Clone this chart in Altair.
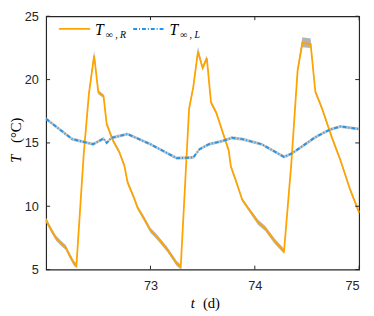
import altair as alt
import pandas as pd

# ---- data ----
t_R = [72.00, 72.05, 72.094, 72.14, 72.188, 72.22, 72.266, 72.29, 72.36, 72.41, 72.46,
       72.50, 72.55, 72.58, 72.64, 72.70, 72.75, 72.78, 72.845, 72.876, 72.94, 73.00,
       73.06, 73.16, 73.25, 73.29, 73.347, 73.37, 73.41, 73.455, 73.50, 73.54, 73.58,
       73.63, 73.69, 73.75, 73.77, 73.815, 73.88, 73.94, 74.03, 74.10, 74.19, 74.28,
       74.35, 74.41, 74.456, 74.535, 74.58, 74.645, 74.74, 74.82, 74.91, 75.00]
T_R = [8.9, 8.1, 7.5, 7.1, 6.75, 6.2, 5.5, 5.3, 14.1, 18.9, 21.9,
       19.0, 18.7, 16.5, 15.2, 14.3, 13.2, 11.9, 10.6, 9.9, 9.0, 8.1,
       7.6, 6.6, 5.5, 5.2, 14.1, 17.7, 19.4, 22.2, 20.9, 21.7, 18.2,
       17.4, 15.9, 14.4, 13.15, 12.1, 10.5, 9.8, 8.75, 8.25, 7.25, 6.45,
       13.4, 20.7, 22.9, 22.8, 19.05, 17.7, 15.4, 13.65, 11.4, 9.5]
lo_R = [0.2, 0.2, 0.2, 0.2, 0.2, 0.2, 0.2, 0.2, 0.15, 0.15, 0.1,
        0.15, 0.15, 0.15, 0.15, 0.15, 0.15, 0.15, 0.15, 0.15, 0.2, 0.2,
        0.2, 0.2, 0.2, 0.2, 0.15, 0.15, 0.15, 0.1, 0.15, 0.15, 0.15,
        0.15, 0.15, 0.15, 0.15, 0.15, 0.15, 0.15, 0.2, 0.2, 0.2, 0.2,
        0.15, 0.2, 0.35, 0.3, 0.15, 0.15, 0.15, 0.15, 0.15, 0.15]
hi_R = [0.2, 0.2, 0.2, 0.2, 0.2, 0.2, 0.2, 0.2, 0.15, 0.2, 0.4,
        0.15, 0.15, 0.15, 0.15, 0.15, 0.15, 0.15, 0.15, 0.15, 0.2, 0.2,
        0.2, 0.2, 0.2, 0.2, 0.15, 0.2, 0.2, 0.4, 0.2, 0.2, 0.15,
        0.15, 0.15, 0.15, 0.15, 0.15, 0.15, 0.15, 0.2, 0.2, 0.2, 0.2,
        0.2, 0.3, 0.45, 0.45, 0.15, 0.15, 0.15, 0.15, 0.15, 0.15]

t_L = [72.00, 72.25, 72.45, 72.55, 72.58, 72.625, 72.78, 73.00, 73.25, 73.41, 73.47,
       73.56, 73.69, 73.78, 73.88, 74.065, 74.28, 74.35, 74.44, 74.57, 74.66, 74.72,
       74.82, 75.00]
T_L = [16.9, 15.3, 14.9, 15.35, 15.0, 15.4, 15.7, 14.9, 13.8, 13.85, 14.5,
       14.9, 15.15, 15.4, 15.3, 14.9, 13.9, 14.15, 14.65, 15.4, 15.8, 16.05,
       16.3, 16.1]
spread_L = [0.12] * len(t_L)

x_ticks = [73, 74, 75]
y_ticks = [5, 10, 15, 20, 25]

# ---- styling ----
W, H = 320, 259
ORANGE = "#FFA300"
BLUE = "#2196EE"
GRAY = "#B4B4B4"
INK = "#262626"
SERIF = "Liberation Serif"

xs = alt.Scale(domain=[72, 75], nice=False, zero=False)
ys = alt.Scale(domain=[5, 25], nice=False, zero=False)
ax_x = alt.Axis(values=x_ticks, title=None, grid=False, domain=False, ticks=False,
                labelPadding=10, labelFont="Liberation Sans", labelFontSize=13,
                labelColor=INK, format="d")
ax_y = alt.Axis(values=y_ticks, title=None, grid=False, domain=False, ticks=False,
                labelPadding=8, labelFont="Liberation Sans", labelFontSize=13,
                labelColor=INK, format="d")

dR = pd.DataFrame({"t": t_R, "T": T_R,
                   "lo": [v - d for v, d in zip(T_R, lo_R)],
                   "hi": [v + d for v, d in zip(T_R, hi_R)]})
dL = pd.DataFrame({"t": t_L, "T": T_L,
                   "lo": [v - d for v, d in zip(T_L, spread_L)],
                   "hi": [v + d for v, d in zip(T_L, spread_L)]})

X = alt.X("t:Q", scale=xs, axis=ax_x)
Y = alt.Y("T:Q", scale=ys, axis=ax_y)

band_R = alt.Chart(dR).mark_area(color=GRAY, opacity=1).encode(
    x=X, y=alt.Y("lo:Q", scale=ys, axis=ax_y), y2="hi:Q")
band_L = alt.Chart(dL).mark_area(color=GRAY, opacity=0.8).encode(
    x=X, y=alt.Y("lo:Q", scale=ys, axis=ax_y), y2="hi:Q")
line_R = alt.Chart(dR).mark_line(color=ORANGE, strokeWidth=1.8).encode(x=X, y=Y)
line_L = alt.Chart(dL).mark_line(color=BLUE, strokeWidth=2, strokeDash=[4, 2, 1, 2]).encode(x=X, y=Y)

dxt = pd.DataFrame({"v": x_ticks})
dyt = pd.DataFrame({"v": y_ticks})
XT = alt.X("v:Q", scale=xs, axis=ax_x)
YT = alt.Y("v:Q", scale=ys, axis=ax_y)
tick_b = alt.Chart(dxt).mark_rule(color=INK).encode(x=XT, y=alt.value(H), y2=alt.value(H - 4))
tick_t = alt.Chart(dxt).mark_rule(color=INK).encode(x=XT, y=alt.value(0), y2=alt.value(4))
tick_l = alt.Chart(dyt).mark_rule(color=INK).encode(y=YT, x=alt.value(0), x2=alt.value(4))
tick_r = alt.Chart(dyt).mark_rule(color=INK).encode(y=YT, x=alt.value(W), x2=alt.value(W - 4))

one = pd.DataFrame({"a": [0]})


def txt(s, x, y, size, italic=False, angle=0, align="left", baseline="alphabetic"):
    kw = dict(font=SERIF, fontSize=size, color="black", align=align, baseline=baseline)
    if italic:
        kw["fontStyle"] = "italic"
    if angle:
        kw["angle"] = angle
    return alt.Chart(one).mark_text(**kw).encode(
        x=alt.value(x), y=alt.value(y), text=alt.value(s))


# legend (inside, top-left)
leg_line_R = alt.Chart(one).mark_rule(color=ORANGE, strokeWidth=1.8).encode(
    x=alt.value(13), x2=alt.value(45), y=alt.value(13))
leg_line_L = alt.Chart(one).mark_rule(color=BLUE, strokeWidth=2, strokeDash=[4, 2, 1, 2]).encode(
    x=alt.value(89), x2=alt.value(121), y=alt.value(13))
legend = [
    leg_line_R, txt("T", 50, 19, 16, italic=True), txt("∞ , R", 61, 22, 10, italic=True),
    leg_line_L, txt("T", 126, 19, 16, italic=True), txt("∞ , L", 137, 22, 10, italic=True),
]

# axis titles
titles = [
    txt("T", -31, H / 2 + 16, 15, italic=True, angle=270, align="center", baseline="middle"),
    txt("(°C)", -31, H / 2 - 13, 15, angle=270, align="center", baseline="middle"),
    txt("t", W / 2 - 10, H + 34, 15, italic=True, align="center", baseline="middle"),
    txt("(d)", W / 2 + 9, H + 34, 15, align="center", baseline="middle"),
]

chart = alt.layer(
    band_R, band_L, line_R, line_L, tick_b, tick_t, tick_l, tick_r, *legend, *titles
).properties(
    width=W, height=H,
    autosize=alt.AutoSizeParams(type="none"),
    padding={"left": 39, "top": 5, "right": 7, "bottom": 44},
).configure_view(stroke=INK, strokeWidth=1.2)

chart.save("out.html", embed_options={"renderer": "svg", "actions": False})
